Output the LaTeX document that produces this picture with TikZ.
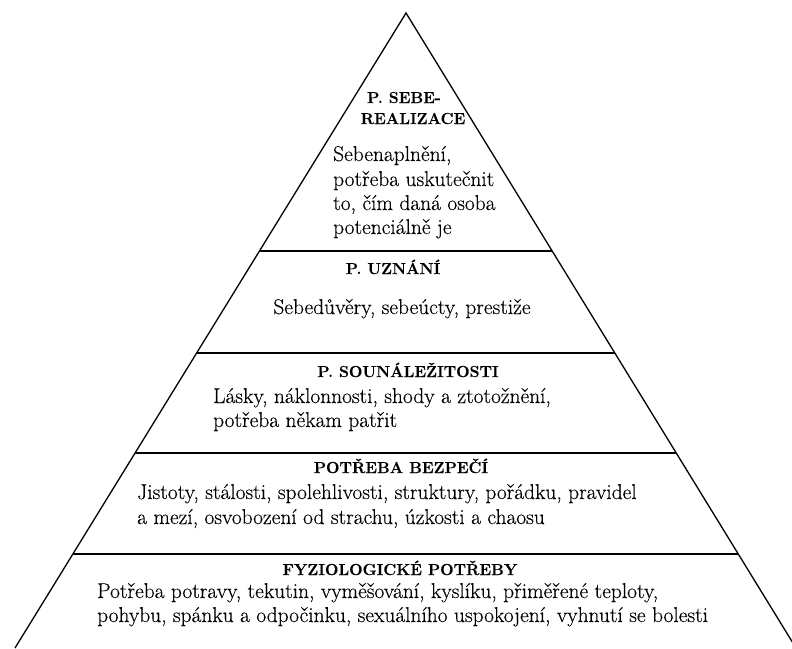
\documentclass[tikz,border=0pt]{standalone}
\usepackage{fontspec}
\setmainfont{Latin Modern Roman}[FakeBold=0.25]
\usetikzlibrary{calc}
\tikzset{
  edge/.style={line width=1.3pt, black},
  head/.style={font=\fontsize{15.9}{18}\selectfont\bfseries, inner sep=0pt, anchor=base},
  body/.style={font=\fontsize{21.4}{24}\selectfont, inner sep=0pt, anchor=base west},
}
\begin{document}
\begin{tikzpicture}[x=1pt,y=-1pt]
\useasboundingbox (0,0) rectangle (792,648);
\fill[white] (0,0) rectangle (792,648);
\coordinate (A) at (406,13);
\coordinate (BL) at (15,648);
\coordinate (BR) at (796,648);
\begin{scope}
\clip (0,0) rectangle (792,648);
\draw[edge, line join=miter] (BL) -- (A) -- (BR);
\foreach \t/\n in {0.3748/1,0.5354/2,0.6929/3,0.8520/4}{
  \coordinate (L\n) at ($(A)!\t!(BL)$);
  \coordinate (R\n) at ($(A)!\t!(BR)$);
  \draw[edge] (L\n) -- (R\n);
}
\end{scope}
% level 5
\node[head] (h5a) at (404,103) {P. SEBE-};
\node[head] (h5b) at (413,124) {REALIZACE};
\node[body] (b5a) at (333,161) {Sebenaplnění,};
\node[body] (b5b) at (333,186) {potřeba uskutečnit};
\node[body] (b5c) at (333,210) {to, čím daná osoba};
\node[body] (b5d) at (333,234) {potenciálně je};
% level 4
\node[head] (h4) at (393,274) {P. UZNÁNÍ};
\node[body, anchor=base] (b4) at (402,314) {Sebedůvěry, sebeúcty, prestiže};
% level 3
\node[head] (h3) at (408,377) {P. SOUNÁLEŽITOSTI};
\node[body] (b3a) at (213,403) {Lásky, náklonnosti, shody a ztotožnění,};
\node[body] (b3b) at (213,427) {potřeba někam patřit};
% level 2
\node[head] (h2) at (401,473) {POTŘEBA BEZPEČÍ};
\node[body] (b2a) at (137,499) {Jistoty, stálosti, spolehlivosti, struktury, pořádku, pravidel};
\node[body] (b2b) at (137,524) {a mezí, osvobození od strachu, úzkosti a chaosu};
% level 1
\node[head] (h1) at (400,575) {FYZIOLOGICKÉ POTŘEBY};
\node[body] (b1a) at (97,598) {Potřeba potravy, tekutin, vyměšování, kyslíku, přiměřené teploty,};
\node[body] (b1b) at (97,622) {pohybu, spánku a odpočinku, sexuálního uspokojení, vyhnutí se bolesti};
\end{tikzpicture}
\end{document}
